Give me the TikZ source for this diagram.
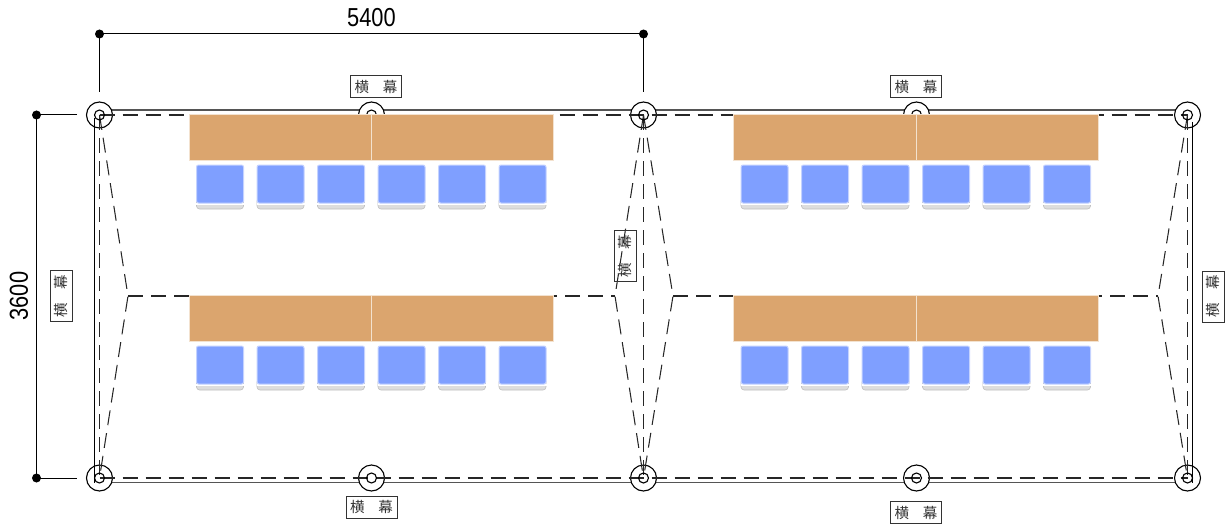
\documentclass[tikz,border=0pt]{standalone}
\usepackage{fontspec}
\setmainfont{Liberation Sans}
\newfontfamily\cjk{Noto Sans CJK JP}
\definecolor{tablecol}{HTML}{DBA56E}
\definecolor{tableedge}{HTML}{F3E2CF}
\definecolor{seatcol}{HTML}{7F9FFF}
\definecolor{seatedge}{HTML}{C4D2FF}
\definecolor{basecol}{HTML}{DDDDDD}
\definecolor{framecol}{HTML}{555555}
\begin{document}
\begin{tikzpicture}[x=1pt,y=-1pt,
  thinline/.style={black,line width=1pt},
  frameline/.style={framecol,line width=1.6pt},
  dashline/.style={black!85,line width=1.05pt,dash pattern=on 15pt off 8pt},
  outerring/.style={circle,draw=black,fill=white,line width=1.1pt,minimum size=26pt,inner sep=0pt},
  innerring/.style={circle,draw=black,line width=1.1pt,minimum size=10pt,inner sep=0pt},
  dimdot/.style={circle,fill=black,minimum size=9pt,inner sep=0pt},
  tablebox/.style={fill=tablecol,draw=tableedge,line width=0.9pt},
  tagbox/.style={draw=black!80,line width=1pt,minimum width=51pt,minimum height=22pt,inner sep=0pt,font=\cjk\fontsize{14.5pt}{14.5pt}\selectfont,text=black!80},
  dimtext/.style={font=\fontsize{26pt}{26pt}\selectfont,inner sep=0pt}]
\useasboundingbox (0,0) rectangle (1228,524);
% frame
\coordinate (ft1) at (99,110); \coordinate (ft2) at (1187.5,110);
\coordinate (fb1) at (99,482.5); \coordinate (fb2) at (1187.5,482.5);
\draw[frameline] (ft1) -- (ft2);
\draw[frameline] (fb1) -- (fb2);
% columns
\foreach \n/\x in {tl/99.5,tc/643.5,tr/1187.5,tm/371.5,tn/916.5}
  \node[outerring] (\n) at (\x,115) {};
\foreach \n/\x in {bl/99.5,bc/643.5,br/1187.5,bm/371.5,bn/916.5}
  \node[outerring] (\n) at (\x,478) {};
\coordinate (sl1) at (94.5,118); \coordinate (sl2) at (94.5,482.5);
\coordinate (sr1) at (1192.5,122); \coordinate (sr2) at (1192.5,482.5);
\draw[thinline] (sl1) -- (sl2);
\draw[thinline] (sr1) -- (sr2);
% dashed grid
\coordinate (k1) at (128,296); \coordinate (k2) at (615,296);
\coordinate (k3) at (673,296); \coordinate (k4) at (1158,296);
\draw[dashline] (tl.center) -- (tc.center) -- (tr.center);
\draw[dashline] (bl.center) -- (bc.center) -- (br.center);
\foreach \a/\b in {tl/bl,tc/bc,tr/br} \draw[dashline] (\a.center) -- (\b.center);
\draw[dashline] (tl.center) -- (k1) -- (bl.center);
\draw[dashline] (tc.center) -- (k2) -- (bc.center);
\draw[dashline] (tc.center) -- (k3) -- (bc.center);
\draw[dashline] (tr.center) -- (k4) -- (br.center);
\draw[dashline] (k1) -- (k2);
\draw[dashline] (k3) -- (k4);
\foreach \n/\x in {a/99.5,b/643.5,c/1187.5,d/371.5,e/916.5}{
  \node[innerring] (i\n) at (\x,115) {};
  \node[innerring] (j\n) at (\x,478) {};
}
% tables and seats
\foreach \dx in {0,544.5}{
 \foreach \dy in {0,181}{
  \begin{scope}[shift={(\dx,\dy)}]
   \draw[tablebox] (189,114.5) rectangle (371.5,160.5);
   \draw[tablebox] (371.5,114.5) rectangle (553.5,160.5);
   \foreach \s in {196.5,257,317.5,378,438.5,499}{
     \fill[basecol,rounded corners=3pt] (\s,200) rectangle ++(47,9);
     \draw[black!25,line width=0.6pt,rounded corners=3pt] (\s,198) rectangle ++(47,11);
     \fill[white] (\s-0.5,203) rectangle ++(48,1.5);
     \draw[seatedge,fill=seatcol,line width=1pt,rounded corners=2pt] (\s,165) rectangle ++(47,38);
   }
  \end{scope}
 }
}
% dimensions
\node[dimdot] (d1) at (99.5,34) {};
\node[dimdot] (d2) at (643.5,34) {};
\node[dimdot] (d3) at (36.5,115) {};
\node[dimdot] (d4) at (36.5,478) {};
\coordinate (e1) at (99.5,92); \coordinate (e2) at (643.5,92);
\coordinate (e3) at (77,115); \coordinate (e4) at (77,478);
\draw[thinline] (e1) -- (d1.center) -- (d2.center) -- (e2);
\draw[thinline] (e3) -- (d3.center) -- (d4.center) -- (e4);
\node[dimtext] (w) at (371.5,18) {\scalebox{0.84}[1]{5400}};
\node[dimtext,rotate=90] (h) at (19,296) {\scalebox{0.84}[1]{3600}};
% tags
\newcommand{\tagtext}{横\hspace{0.95em}幕}
\node[tagbox] (t1) at (376,87) {\tagtext};
\node[tagbox] (t2) at (916,87) {\tagtext};
\node[tagbox] (t3) at (371.5,507) {\tagtext};
\node[tagbox] (t4) at (916,512.5) {\tagtext};
\node[tagbox,rotate=90] (t5) at (61.5,296) {\tagtext};
\node[tagbox,rotate=90] (t6) at (625,256) {\tagtext};
\node[tagbox,rotate=90] (t7) at (1213,296.5) {\tagtext};
\end{tikzpicture}
\end{document}
